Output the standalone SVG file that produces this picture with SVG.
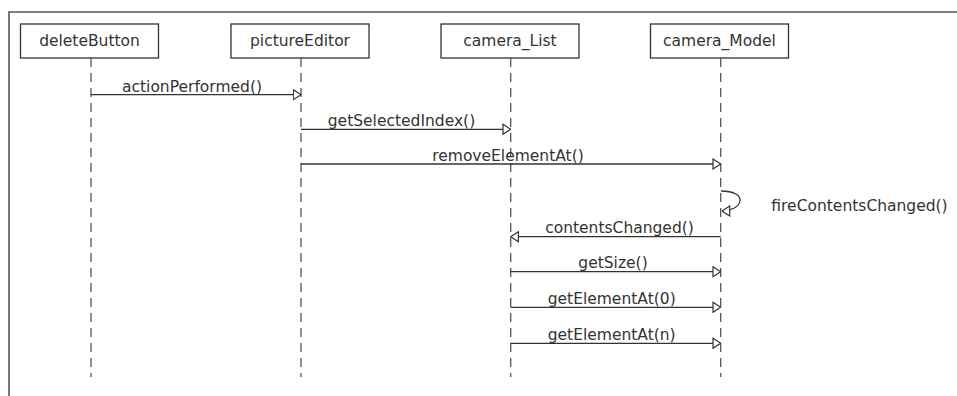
<svg xmlns="http://www.w3.org/2000/svg" width="957" height="396" viewBox="0 0 957 396">
<defs>
<style>
.box{fill:#fff;stroke:#333;stroke-width:1.3}
.lbl{font-family:"DejaVu Sans","Liberation Sans",sans-serif;font-size:15.5px;fill:#333;text-anchor:middle}
.life{stroke:#555;stroke-width:1.3;stroke-dasharray:9 6;fill:none}
.msg{stroke:#333;stroke-width:1.3;fill:none}
.frame{stroke:#555;stroke-width:1.6;fill:none}
</style>
<marker id="ah" viewBox="0 0 9 12" refX="8.5" refY="6" markerWidth="9" markerHeight="12" markerUnits="userSpaceOnUse" orient="auto">
<path d="M0.8,1 L8.5,6 L0.8,11 Z" fill="#fff" stroke="#333" stroke-width="1.2"/>
</marker>
</defs>
<rect width="957" height="396" fill="#fff"/>
<path class="frame" d="M9,396 L9,12 L957,12"/>
<g id="deleteButton">
<rect class="box" x="20.5" y="24" width="138" height="34"/>
<text class="lbl" x="89.5" y="46">deleteButton</text>
<line class="life" x1="91" y1="58" x2="91" y2="377"/>
</g>
<g id="pictureEditor">
<rect class="box" x="231" y="24" width="138" height="34"/>
<text class="lbl" x="300" y="46">pictureEditor</text>
<line class="life" x1="301" y1="58" x2="301" y2="377"/>
</g>
<g id="camera_List">
<rect class="box" x="441" y="24" width="138" height="34"/>
<text class="lbl" x="510" y="46">camera_List</text>
<line class="life" x1="510.7" y1="58" x2="510.7" y2="377"/>
</g>
<g id="camera_Model">
<rect class="box" x="650.5" y="24" width="138" height="34"/>
<text class="lbl" x="719.5" y="46">camera_Model</text>
<line class="life" x1="720.7" y1="58" x2="720.7" y2="377"/>
</g>
<g id="connectors">
<line class="msg" x1="91" y1="94.7" x2="301" y2="94.7" marker-end="url(#ah)"/>
<text class="lbl" x="192" y="91.5">actionPerformed()</text>
<line class="msg" x1="301" y1="129.3" x2="510.7" y2="129.3" marker-end="url(#ah)"/>
<text class="lbl" x="401.5" y="126">getSelectedIndex()</text>
<line class="msg" x1="301" y1="164" x2="720.7" y2="164" marker-end="url(#ah)"/>
<text class="lbl" x="508" y="161">removeElementAt()</text>
<path class="msg" d="M721,191 C733,191 741,195 740,201 C739,207 731,211 722,211" marker-end="url(#ah)"/>
<text class="lbl" x="859.5" y="211">fireContentsChanged()</text>
<line class="msg" x1="720.7" y1="236.7" x2="510.7" y2="236.7" marker-end="url(#ah)"/>
<text class="lbl" x="619.5" y="233.3">contentsChanged()</text>
<line class="msg" x1="510.7" y1="271.7" x2="720.7" y2="271.7" marker-end="url(#ah)"/>
<text class="lbl" x="613" y="268.3">getSize()</text>
<line class="msg" x1="510.7" y1="307.3" x2="720.7" y2="307.3" marker-end="url(#ah)"/>
<text class="lbl" x="611.7" y="304">getElementAt(0)</text>
<line class="msg" x1="510.7" y1="343.3" x2="720.7" y2="343.3" marker-end="url(#ah)"/>
<text class="lbl" x="611.7" y="340">getElementAt(n)</text>
</g>
</svg>
